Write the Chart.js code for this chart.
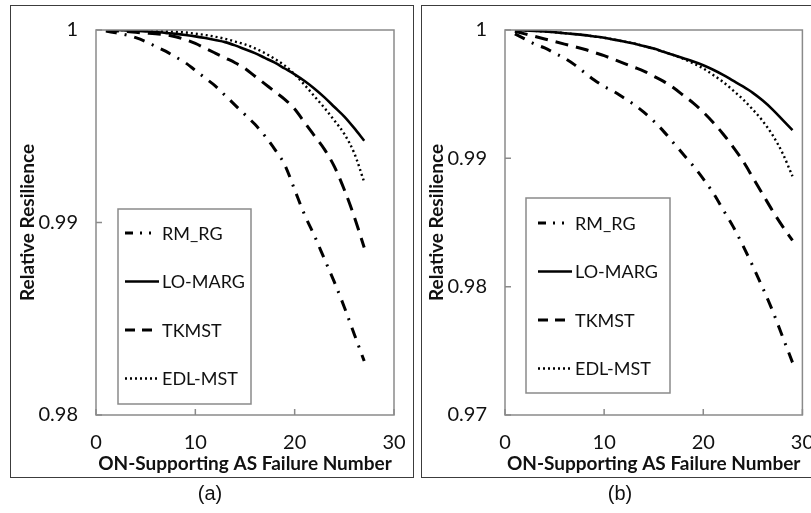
<!DOCTYPE html>
<html>
<head>
<meta charset="utf-8">
<script src="https://cdn.jsdelivr.net/npm/chart.js@4.4.1/dist/chart.umd.min.js"></script>
<style>
  html, body { margin: 0; padding: 0; width: 811px; height: 513px; overflow: hidden; background: #fff; }
  .frame { position: absolute; border: 1.5px solid #3c3c3c; box-sizing: border-box; }
  canvas { position: absolute; left: 0; top: 0; }
  .cap { position: absolute; font-family: "Liberation Sans", Arial, sans-serif; font-size: 20px; color: #111;
         transform: translateX(-50%); line-height: 24px; }
</style>
</head>
<body>
<div class="frame" style="left:10px;top:5px;width:404px;height:473px"></div>
<div class="frame" style="left:421px;top:5px;width:400px;height:473px"></div>
<canvas id="chartA" width="811" height="513"></canvas>
<canvas id="chartB" width="830" height="513"></canvas>
<div class="cap" style="left:210px;top:481px">(a)</div>
<div class="cap" style="left:620px;top:481px">(b)</div>

<script>
// ---- data ----------------------------------------------------------------
const SERIES = ['RM_RG', 'LO-MARG', 'TKMST', 'EDL-MST'];

// failure counts
const X_A = [1,2,3,4,5,6,7,8,9,10,11,12,13,14,15,16,17,18,19,20,21,22,23,24,25,26,27];
const X_B = [1,2,3,4,5,6,7,8,9,10,11,12,13,14,15,16,17,18,19,20,21,22,23,24,25,26,27,28,29];

// panel (a)
const RM_RG_A   = [0.99995,0.99985,0.99975,0.9996,0.9994,0.99915,0.9989,0.9986,0.9983,0.9979,0.9975,0.9971,0.9966,0.9961,0.9956,0.9951,0.9945,0.9938,0.9930,0.9917,0.9904,0.9893,0.9881,0.9869,0.9856,0.9842,0.9828];
const LO_MARG_A = [1,1,0.99998,0.99996,0.99993,0.9999,0.99985,0.9998,0.99974,0.99967,0.99958,0.99948,0.99937,0.9992,0.9990,0.9988,0.99855,0.9983,0.9980,0.9977,0.99735,0.99695,0.9965,0.9960,0.9955,0.9949,0.99425];
const TKMST_A   = [0.99997,0.99995,0.99992,0.99988,0.99984,0.9998,0.99975,0.99965,0.9995,0.9993,0.99905,0.9988,0.99855,0.9983,0.9980,0.9976,0.9972,0.9968,0.9964,0.9959,0.9952,0.9945,0.9938,0.9929,0.9917,0.9903,0.9887];
const EDL_MST_A = [1,1,1,0.99999,0.99998,0.99996,0.99994,0.99991,0.99987,0.99981,0.99974,0.99965,0.99954,0.9994,0.99925,0.99905,0.9988,0.9985,0.99815,0.9977,0.99715,0.99655,0.99595,0.9953,0.9946,0.9936,0.9921];

// panel (b)
const RM_RG_B   = [0.9997,0.9993,0.9989,0.9986,0.9982,0.9978,0.9973,0.9967,0.9961,0.9956,0.9952,0.9947,0.9942,0.9936,0.9929,0.9921,0.9912,0.9903,0.9894,0.9884,0.9873,0.9860,0.9847,0.9832,0.9816,0.9799,0.9781,0.9761,0.9741];
const LO_MARG_B = [1,0.99997,0.99993,0.99988,0.99982,0.99975,0.99968,0.9996,0.9995,0.9994,0.99925,0.9991,0.99895,0.99875,0.99855,0.9983,0.99805,0.9978,0.99755,0.99725,0.9969,0.9965,0.99605,0.9956,0.9951,0.9945,0.9938,0.9930,0.9922];
const TKMST_B   = [0.9999,0.9997,0.9995,0.9993,0.9991,0.9989,0.9987,0.9985,0.99825,0.9980,0.9977,0.9974,0.9971,0.9968,0.9964,0.9960,0.9955,0.9949,0.9943,0.9936,0.9928,0.9919,0.9909,0.9898,0.9885,0.9872,0.9859,0.9847,0.9836];
const EDL_MST_B = [1,0.99997,0.99993,0.99988,0.99982,0.99975,0.99968,0.9996,0.9995,0.9994,0.99925,0.9991,0.99895,0.99875,0.99855,0.9983,0.99805,0.99775,0.9974,0.9970,0.9965,0.99595,0.9953,0.9946,0.9938,0.9929,0.9918,0.9904,0.9886];

// axis ticks
const X_TICKS   = [0, 10, 20, 30];
const Y_TICKS_A = [0.98, 0.99, 1];
const Y_TICKS_B = [0.97, 0.98, 0.99, 1];

const X_TITLE = 'ON-Supporting AS Failure Number';
const Y_TITLE = 'Relative Resilience';

// ---- styling -------------------------------------------------------------
const FONT = 'Lato';
const FRAME_GREY = '#8a8a8a';

const LINE_STYLE = {
  'RM_RG':   { width: 3,   dash: [11, 8, 2, 8], legendDash: [8, 7, 2, 7, 2, 60] },
  'LO-MARG': { width: 2.6, dash: [],            legendDash: [] },
  'TKMST':   { width: 3,   dash: [13, 8],       legendDash: [10, 7] },
  'EDL-MST': { width: 2.4, dash: [2, 3],        legendDash: [2, 3] }
};

function makeDatasets(xs, columns) {
  return SERIES.map((name, i) => ({
    label: name,
    data: xs.map((x, k) => ({ x: x, y: columns[i][k] })),
    borderColor: '#000',
    borderWidth: LINE_STYLE[name].width,
    borderDash: LINE_STYLE[name].dash,
    legendDash: LINE_STYLE[name].legendDash,
    pointRadius: 0,
    fill: false,
    cubicInterpolationMode: 'monotone'
  }));
}

// plot box plus short inward tick marks
const frameBox = {
  id: 'frameBox',
  afterDatasetsDraw(chart) {
    const { ctx, chartArea: a, scales } = chart;
    ctx.save();
    ctx.strokeStyle = FRAME_GREY;
    ctx.lineWidth = 1.5;
    ctx.strokeRect(a.left, a.top, a.right - a.left, a.bottom - a.top);
    ctx.beginPath();
    scales.x.ticks.forEach(t => {
      const px = scales.x.getPixelForValue(t.value);
      ctx.moveTo(px, a.bottom); ctx.lineTo(px, a.bottom - 6);
    });
    scales.y.ticks.forEach(t => {
      const py = scales.y.getPixelForValue(t.value);
      ctx.moveTo(a.left, py); ctx.lineTo(a.left + 6, py);
    });
    ctx.stroke();
    ctx.restore();
  }
};

// boxed legend inside the plot area
const boxLegend = {
  id: 'boxLegend',
  afterDraw(chart, args, opts) {
    const { ctx, chartArea: a } = chart;
    const x0 = a.left + opts.dx, y0 = a.top + opts.dy;
    ctx.save();
    ctx.fillStyle = '#fff';
    ctx.fillRect(x0, y0, opts.w, opts.h);
    ctx.strokeStyle = FRAME_GREY;
    ctx.lineWidth = 1.5;
    ctx.strokeRect(x0, y0, opts.w, opts.h);
    chart.data.datasets.forEach((ds, i) => {
      const cy = y0 + opts.firstRow + i * opts.rowGap;
      ctx.beginPath();
      ctx.setLineDash(ds.legendDash);
      ctx.lineWidth = ds.borderWidth;
      ctx.strokeStyle = ds.borderColor;
      ctx.moveTo(x0 + opts.sampleX, cy);
      ctx.lineTo(x0 + opts.sampleX + opts.sampleW, cy);
      ctx.stroke();
      ctx.setLineDash([]);
      ctx.fillStyle = '#111';
      ctx.font = '18px ' + FONT;
      ctx.textBaseline = 'middle';
      ctx.textAlign = 'left';
      ctx.fillText(ds.label, x0 + opts.sampleX + opts.sampleW + 3, cy + 1);
    });
    ctx.restore();
  }
};

function makeChart(id, xs, columns, yTicks, padding, legend) {
  return new Chart(document.getElementById(id), {
    type: 'line',
    data: { datasets: makeDatasets(xs, columns) },
    options: {
      responsive: false,
      animation: false,
      devicePixelRatio: 1,
      layout: { padding: padding },
      plugins: { legend: { display: false }, tooltip: { enabled: false }, boxLegend: legend },
      scales: {
        x: {
          type: 'linear',
          min: X_TICKS[0], max: X_TICKS[X_TICKS.length - 1],
          afterBuildTicks: s => { s.ticks = X_TICKS.map(v => ({ value: v })); },
          afterFit: s => { s.height = 60; },
          grid: { display: false, drawTicks: false },
          border: { display: false },
          ticks: { padding: 16, color: '#111', font: { family: FONT, size: 20 }, maxRotation: 0,
                   callback: v => String(v) },
          title: { display: true, text: X_TITLE, color: '#111', padding: 0,
                   font: { family: FONT, size: 19, weight: 'bold' } }
        },
        y: {
          type: 'linear',
          min: yTicks[0], max: yTicks[yTicks.length - 1],
          afterBuildTicks: s => { s.ticks = yTicks.map(v => ({ value: v })); },
          afterFit: s => { s.width = 80; },
          grid: { display: false, drawTicks: false },
          border: { display: false },
          ticks: { padding: 18, color: '#111', font: { family: FONT, size: 20 },
                   callback: v => String(v) },
          title: { display: true, text: Y_TITLE, color: '#111', padding: 0,
                   font: { family: FONT, size: 19, weight: 'bold' } }
        }
      }
    },
    plugins: [frameBox, boxLegend]
  });
}

makeChart('chartA', X_A, [RM_RG_A, LO_MARG_A, TKMST_A, EDL_MST_A], Y_TICKS_A,
  { left: 16, top: 20, right: 417, bottom: 38 },
  { dx: 22, dy: 179, w: 133, h: 195, firstRow: 24, rowGap: 48.5, sampleX: 7, sampleW: 34 });

makeChart('chartB', X_B, [RM_RG_B, LO_MARG_B, TKMST_B, EDL_MST_B], Y_TICKS_B,
  { left: 425, top: 24, right: 26, bottom: 38 },
  { dx: 21, dy: 168, w: 144, h: 195, firstRow: 25, rowGap: 48.5, sampleX: 12, sampleW: 34 });
</script>
</body>
</html>
